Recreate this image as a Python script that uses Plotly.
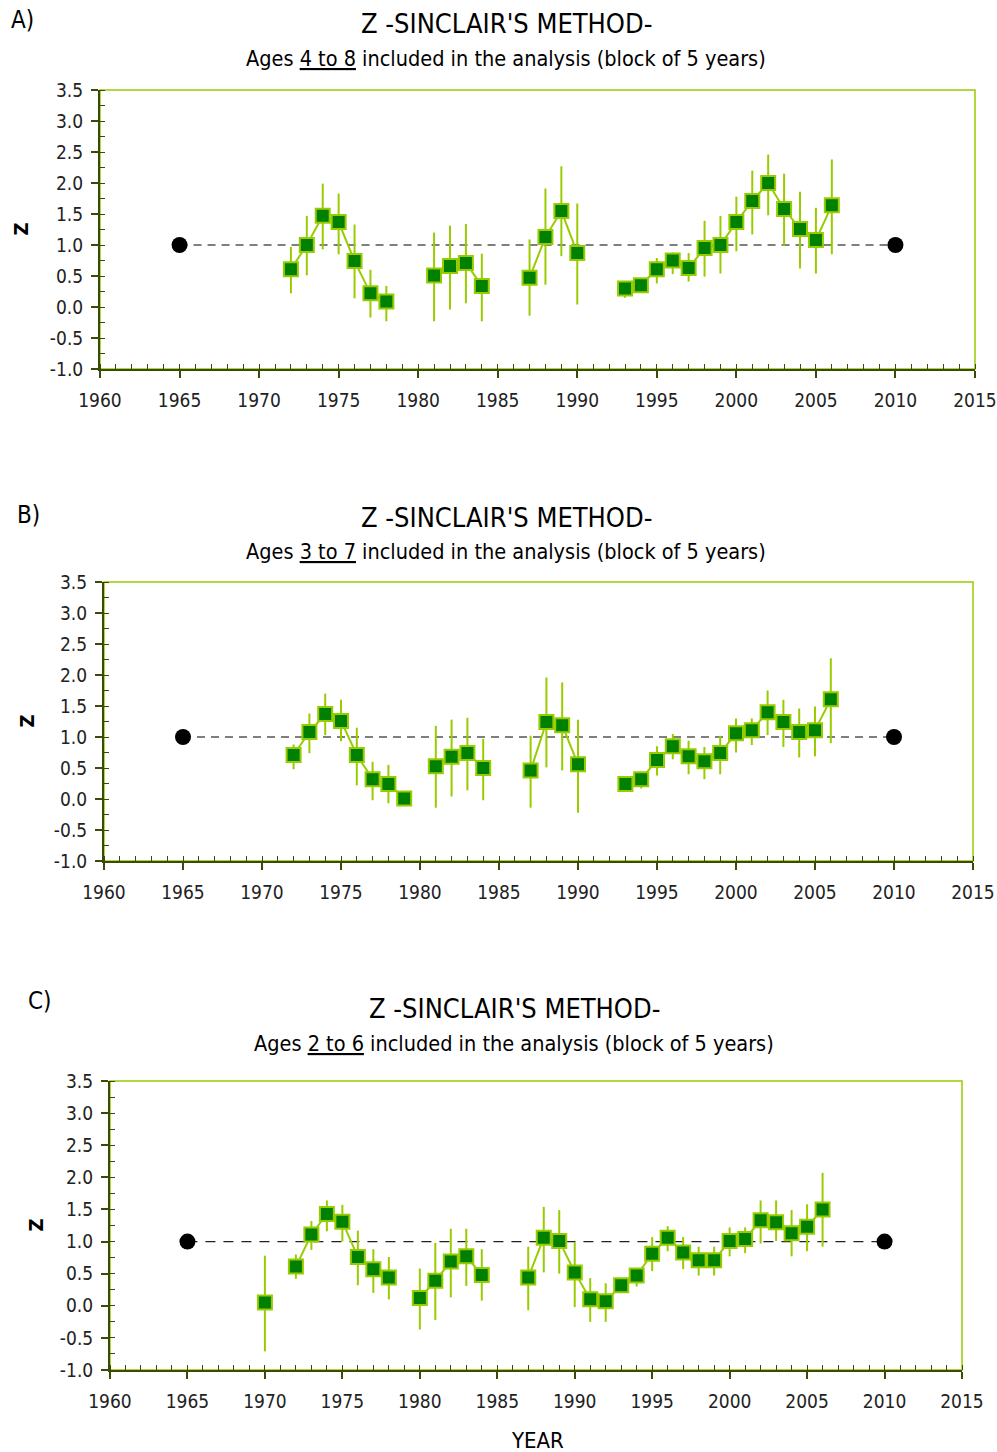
import plotly.graph_objects as go

# ---- Panel A: ages 4 to 8 ----
years_a = [1972, 1973, 1974, 1975, 1976, 1977, 1978, 1981, 1982, 1983, 1984,
           1987, 1988, 1989, 1990, 1993, 1994, 1995, 1996, 1997, 1998, 1999,
           2000, 2001, 2002, 2003, 2004, 2005, 2006]
z_a = [0.61, 1.00, 1.47, 1.37, 0.74, 0.22, 0.09, 0.51, 0.66, 0.71, 0.34,
       0.47, 1.13, 1.55, 0.87, 0.30, 0.35, 0.61, 0.75, 0.63, 0.95, 1.00,
       1.37, 1.71, 2.00, 1.58, 1.26, 1.08, 1.64]
hi_a = [0.97, 1.47, 1.99, 1.83, 1.33, 0.60, 0.34, 1.20, 1.31, 1.34, 0.86,
        1.09, 1.91, 2.27, 1.67, 0.36, 0.40, 0.79, 0.88, 0.87, 1.39, 1.47,
        1.78, 2.20, 2.46, 2.15, 1.86, 1.60, 2.38]
lo_a = [0.22, 0.51, 0.93, 0.85, 0.14, -0.17, -0.23, -0.23, -0.04, 0.06, -0.23,
        -0.14, 0.36, 0.82, 0.04, 0.15, 0.30, 0.38, 0.53, 0.41, 0.49, 0.54,
        0.90, 1.17, 1.48, 0.99, 0.62, 0.54, 0.85]

# ---- Panel B: ages 3 to 7 ----
years_b = [1972, 1973, 1974, 1975, 1976, 1977, 1978, 1979, 1981, 1982, 1983,
           1984, 1987, 1988, 1989, 1990, 1993, 1994, 1995, 1996, 1997, 1998,
           1999, 2000, 2001, 2002, 2003, 2004, 2005, 2006]
z_b = [0.71, 1.08, 1.37, 1.26, 0.71, 0.32, 0.24, 0.01, 0.53, 0.68, 0.74,
       0.50, 0.46, 1.24, 1.19, 0.56, 0.24, 0.32, 0.63, 0.85, 0.69, 0.61,
       0.74, 1.06, 1.11, 1.40, 1.24, 1.08, 1.11, 1.61]
hi_b = [0.88, 1.38, 1.70, 1.60, 1.15, 0.60, 0.55, 0.01, 1.18, 1.28, 1.31,
        0.97, 1.02, 1.96, 1.88, 1.28, 0.30, 0.38, 0.85, 1.05, 0.94, 0.84,
        1.02, 1.30, 1.30, 1.75, 1.60, 1.46, 1.49, 2.27]
lo_b = [0.48, 0.74, 1.03, 0.93, 0.22, -0.02, -0.07, 0.01, -0.14, 0.04, 0.14,
        -0.02, -0.14, 0.51, 0.46, -0.22, 0.12, 0.17, 0.38, 0.64, 0.40, 0.32,
        0.40, 0.75, 0.87, 1.03, 0.84, 0.67, 0.69, 0.90]

# ---- Panel C: ages 2 to 6 ----
years_c = [1970, 1972, 1973, 1974, 1975, 1976, 1977, 1978, 1980, 1981, 1982,
           1983, 1984, 1987, 1988, 1989, 1990, 1991, 1992, 1993, 1994, 1995,
           1996, 1997, 1998, 1999, 2000, 2001, 2002, 2003, 2004, 2005, 2006]
z_c = [0.05, 0.61, 1.11, 1.43, 1.31, 0.76, 0.57, 0.44, 0.12, 0.39, 0.69,
       0.77, 0.48, 0.44, 1.06, 1.01, 0.52, 0.10, 0.07, 0.32, 0.47, 0.81,
       1.06, 0.83, 0.71, 0.71, 1.01, 1.04, 1.33, 1.30, 1.13, 1.23, 1.50]
hi_c = [0.78, 0.80, 1.32, 1.64, 1.57, 1.17, 0.88, 0.76, 0.58, 0.98, 1.20,
        1.20, 0.88, 0.92, 1.54, 1.49, 0.99, 0.43, 0.35, 0.40, 0.59, 1.07,
        1.24, 1.07, 0.92, 0.92, 1.22, 1.22, 1.64, 1.64, 1.49, 1.58, 2.07]
lo_c = [-0.71, 0.42, 0.87, 1.16, 1.00, 0.32, 0.20, 0.10, -0.37, -0.22, 0.13,
        0.31, 0.08, -0.07, 0.52, 0.50, -0.02, -0.25, -0.25, 0.25, 0.30, 0.54,
        0.85, 0.57, 0.47, 0.47, 0.77, 0.82, 0.97, 1.01, 0.77, 0.85, 0.92]

# reference line Z = 1 between the two end points
ref_years = [1965, 2010]
ref_z = [1.0, 1.0]

x_ticks = [1960, 1965, 1970, 1975, 1980, 1985, 1990, 1995, 2000, 2005, 2010, 2015]
y_ticks = [-1.0, -0.5, 0.0, 0.5, 1.0, 1.5, 2.0, 2.5, 3.0, 3.5]

panel_letters = ["A)", "B)", "C)"]
age_ranges = ["4 to 8", "3 to 7", "2 to 6"]
title_text = "Z -SINCLAIR'S METHOD-"

W, H = 997, 1452
FONT = "DejaVu Sans Condensed, Liberation Sans Narrow, Arial Narrow, sans-serif"
GREEN = "#008000"
LIME = "#99CC00"
AXIS = "#3c4a08"

# pixel boxes of the three plot areas: (left, right, top, bottom)
boxes = [(100, 975, 90, 369), (104, 973, 582, 861), (110, 962, 1081, 1370)]
ref_styles = [dict(color="#7f7f7f", width=2, dash="8px,6px"),
              dict(color="#7f7f7f", width=2, dash="8px,6px"),
              dict(color="#222222", width=1.3, dash="10px,8px")]
title_pos = [(506, 24, 59, 22, 20), (506, 517, 551, 28, 515), (514, 1008, 1043, 40, 1001)]
ztitle_x = [20, 26, 35]

datasets = [(years_a, z_a, hi_a, lo_a), (years_b, z_b, hi_b, lo_b),
            (years_c, z_c, hi_c, lo_c)]


def with_gaps(xs, ys):
    gx, gy = [], []
    for i, (x, y) in enumerate(zip(xs, ys)):
        if i > 0 and x - xs[i - 1] > 1:
            gx.append(None)
            gy.append(None)
        gx.append(x)
        gy.append(y)
    return gx, gy


fig = go.Figure()
annotations = []
shapes = []

for k, ((yrs, z, hi, lo), (l, r, t, b)) in enumerate(zip(datasets, boxes)):
    xa = "x" if k == 0 else f"x{k + 1}"
    ya = "y" if k == 0 else f"y{k + 1}"

    fig.add_trace(go.Scatter(x=ref_years, y=ref_z, xaxis=xa, yaxis=ya, mode="lines+markers",
                             line=ref_styles[k], marker=dict(color="black", size=16),
                             showlegend=False, hoverinfo="skip"))

    gx, gy = with_gaps(yrs, z)
    fig.add_trace(go.Scatter(x=gx, y=gy, xaxis=xa, yaxis=ya, mode="lines",
                             line=dict(color=LIME, width=2), showlegend=False,
                             hoverinfo="skip"))

    plus = [h - v for h, v in zip(hi, z)]
    minus = [v - m for v, m in zip(z, lo)]
    fig.add_trace(go.Scatter(x=yrs, y=z, xaxis=xa, yaxis=ya, mode="markers",
                             marker=dict(symbol="square", size=14, color=GREEN,
                                         line=dict(color=LIME, width=2)),
                             error_y=dict(type="data", symmetric=False, array=plus,
                                          arrayminus=minus, color=LIME, thickness=2,
                                          width=0),
                             showlegend=False))

    xdom = [l / W, r / W]
    ydom = [1 - b / H, 1 - t / H]
    xkey = "xaxis" if k == 0 else f"xaxis{k + 1}"
    ykey = "yaxis" if k == 0 else f"yaxis{k + 1}"
    fig.update_layout(**{
        xkey: dict(domain=xdom, anchor=ya, range=[1960, 2015], tickvals=x_ticks,
                   ticks="outside", ticklen=7, tickwidth=1.5, tickcolor=AXIS,
                   showline=True, linecolor=AXIS, linewidth=2, showgrid=False,
                   zeroline=False, ticklabelstandoff=6, automargin=False,
                   tickfont=dict(family=FONT, size=19, color="#222"),
                   minor=dict(ticks="inside", dtick=1, ticklen=5, tickcolor=AXIS,
                              tickwidth=1, showgrid=False)),
        ykey: dict(domain=ydom, anchor=xa, range=[-1, 3.5], tickvals=y_ticks,
                   ticktext=[f"{v:.1f}" for v in y_ticks],
                   ticks="outside", ticklen=7, tickwidth=1.5, tickcolor=AXIS,
                   showline=True, linecolor=AXIS, linewidth=2, showgrid=False,
                   zeroline=False, ticklabelstandoff=4, automargin=False,
                   tickfont=dict(family=FONT, size=19, color="#222"),
                   minor=dict(ticks="inside", dtick=0.25, ticklen=5, tickcolor=AXIS,
                              tickwidth=1, showgrid=False)),
    })

    shapes.append(dict(type="rect", xref=f"{xa} domain", yref=f"{ya} domain",
                       x0=0, x1=1, y0=0, y1=1, line=dict(color=LIME, width=1.5),
                       layer="below"))

    cx, ty, sy, lx, ly = title_pos[k]
    annotations.append(dict(x=cx / W, y=1 - ty / H, xref="paper", yref="paper",
                            text=title_text, showarrow=False, xanchor="center",
                            yanchor="middle", font=dict(family=FONT, size=27, color="black")))
    annotations.append(dict(x=cx / W, y=1 - sy / H, xref="paper", yref="paper",
                            text=f"Ages <u>{age_ranges[k]}</u> included in the analysis (block of 5 years)",
                            showarrow=False, xanchor="center", yanchor="middle",
                            font=dict(family=FONT, size=21.5, color="black")))
    annotations.append(dict(x=lx / W, y=1 - ly / H, xref="paper", yref="paper",
                            text=panel_letters[k], showarrow=False, xanchor="center",
                            yanchor="middle", font=dict(family=FONT, size=24, color="black")))
    annotations.append(dict(x=ztitle_x[k] / W, y=1 - ((t + b) / 2) / H, xref="paper",
                            yref="paper", text="<b>Z</b>", textangle=-90, showarrow=False,
                            xanchor="center", yanchor="middle",
                            font=dict(family=FONT, size=20, color="black")))

annotations.append(dict(x=537 / W, y=1 - 1440 / H, xref="paper", yref="paper",
                        text="YEAR", showarrow=False, xanchor="center", yanchor="middle",
                        font=dict(family=FONT, size=22, color="black")))

fig.update_layout(width=W, height=H, margin=dict(l=0, r=0, t=0, b=0, autoexpand=False),
                  paper_bgcolor="white", plot_bgcolor="white",
                  annotations=annotations, shapes=shapes, showlegend=False)

fig.write_html("out.html")
